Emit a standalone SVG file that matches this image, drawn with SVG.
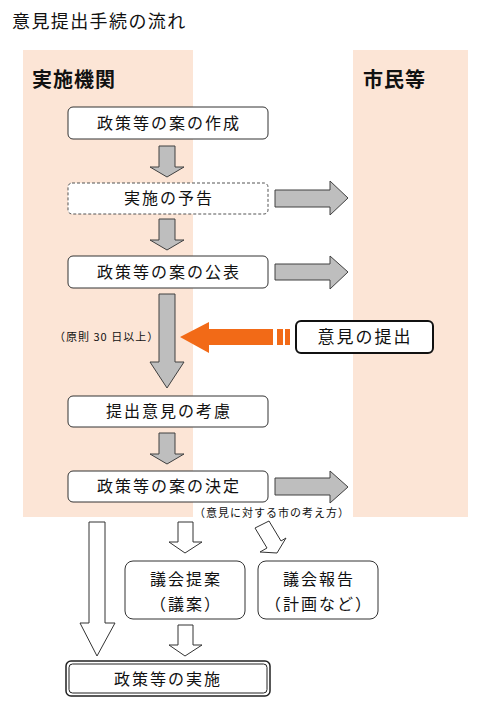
<svg xmlns="http://www.w3.org/2000/svg" width="492" height="711" viewBox="0 0 492 711">
<style>
  text { font-family: "Noto Sans CJK JP", "Noto Sans", sans-serif; fill: #111; }
  .box { fill: #fff; stroke: #333; stroke-width: 1; }
  .lbl { font-size: 16px; letter-spacing: 2px; text-anchor: middle; }
  .note { font-size: 11px; letter-spacing: 1px; }
  .hdr { font-size: 20px; font-weight: bold; letter-spacing: 1px; }
  .garr { fill: #BEBEBE; stroke: #404040; stroke-width: 1; }
  .warr { fill: #fff; stroke: #333; stroke-width: 1; }
  .band { fill: #FCE5D6; }
</style>
<rect width="492" height="711" fill="#fff"/>
<text x="12" y="28" style="font-size:18px;letter-spacing:1.4px">意見提出手続の流れ</text>
<g id="lanes">
  <rect class="band" x="23" y="50" width="170" height="467"/>
  <rect class="band" x="353" y="50" width="115" height="467"/>
  <text class="hdr" x="32" y="87">実施機関</text>
  <text class="hdr" x="363" y="87">市民等</text>
</g>
<g id="connectors">
  <polygon class="garr" points="159,146 175,146 175,167 184,167 167,177 150,167 159,167"/>
  <polygon class="garr" points="159,219 175,219 175,240 184,240 167,250 150,240 159,240"/>
  <polygon class="garr" points="159,294 175,294 175,362 184,362 167,388 150,362 159,362"/>
  <polygon class="garr" points="159,433 175,433 175,454 184,454 167,464 150,454 159,454"/>
  <polygon class="garr" points="275,190 330,190 330,181 348,198 330,215 330,207 275,207"/>
  <polygon class="garr" points="275,264 330,264 330,256 348,272 330,289 330,280 275,280"/>
  <polygon class="garr" points="275,478 330,478 330,471 348,487 330,503 330,495 275,495"/>
  <polygon fill="#F26A17" points="180,337 209,322 209,329 273,329 273,345 209,345 209,353"/>
  <rect x="277" y="329" width="6" height="16" fill="#F26A17"/>
  <rect x="285" y="329" width="5" height="16" fill="#F26A17"/>
  <polygon class="warr" points="89,522 105,522 105,623 115,623 97,656 80,623 89,623"/>
  <polygon class="warr" points="178,522 193,522 193,542 202,542 185,553 169,542 178,542"/>
  <polygon class="warr" points="255,528 269,521 281,541 286,538 277,553 260,552 267,548"/>
  <polygon class="warr" points="178,625 193,625 193,645 202,645 185,656 169,645 178,645"/>
  <text class="note" x="54" y="341">（原則 30 日以上）</text>
  <text class="note" x="194" y="517">（意見に対する市の考え方）</text>
</g>
<g id="n1">
  <rect class="box" x="68" y="107" width="200" height="32" rx="5"/>
  <text class="lbl" x="169" y="129">政策等の案の作成</text>
</g>
<g id="n2">
  <rect x="68" y="183" width="200" height="31" rx="4" fill="#fff" stroke="#555" stroke-dasharray="3,2"/>
  <text class="lbl" x="169" y="204">実施の予告</text>
</g>
<g id="n3">
  <rect class="box" x="68" y="256" width="200" height="32" rx="5"/>
  <text class="lbl" x="169" y="278">政策等の案の公表</text>
</g>
<g id="n4">
  <rect x="296" y="321" width="137" height="32" rx="5" fill="#fff" stroke="#111" stroke-width="2"/>
  <text class="lbl" x="365" y="343" style="font-size:17px">意見の提出</text>
</g>
<g id="n5">
  <rect class="box" x="68" y="396" width="200" height="31" rx="5"/>
  <text class="lbl" x="169" y="417">提出意見の考慮</text>
</g>
<g id="n6">
  <rect class="box" x="68" y="471" width="200" height="31" rx="5"/>
  <text class="lbl" x="169" y="492">政策等の案の決定</text>
</g>
<g id="n7">
  <rect class="box" x="125" y="561" width="120" height="58" rx="8"/>
  <text class="lbl" x="186" y="585">議会提案</text>
  <text class="lbl" x="186" y="610">（議案）</text>
</g>
<g id="n8">
  <rect class="box" x="258" y="561" width="120" height="58" rx="8"/>
  <text class="lbl" x="319" y="585">議会報告</text>
  <text class="lbl" x="319" y="610">（計画など）</text>
</g>
<g id="n9">
  <rect x="66" y="661" width="204" height="35" rx="5" fill="#fff" stroke="#222" stroke-width="1.5"/>
  <rect x="69" y="664" width="198" height="29" rx="3.5" fill="none" stroke="#222" stroke-width="1"/>
  <text class="lbl" x="168" y="685">政策等の実施</text>
</g>
</svg>
